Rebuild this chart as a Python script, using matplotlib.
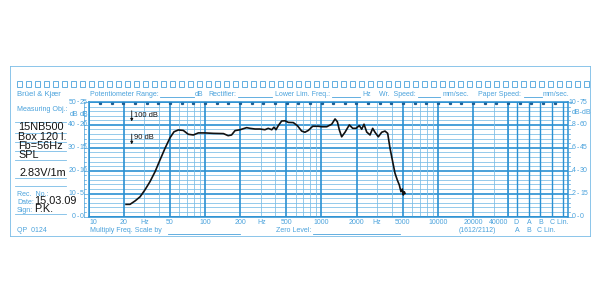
import numpy as np
import matplotlib.pyplot as plt
from matplotlib.patches import Rectangle
from matplotlib.lines import Line2D

BLUE = "#2a90d2"
LBLUE = "#78bce6"
TXT = "#4aa2dc"
INK = "#111111"

# measured response, 15NB500 in 120 l box (SPL, dB)
freq = [21.0, 22.7, 25.1, 27.7, 30.5, 33.7, 37.3, 41.1, 45.4, 50.1, 54.2, 59.0,
        65.1, 71.9, 79.4, 87.6, 100, 118, 144, 158, 169, 181, 200, 228, 243, 269,
        297, 327, 349, 374, 391, 407, 426, 455, 486, 519, 573, 620, 676, 721,
        771, 840, 939, 1009, 1109, 1224, 1307, 1368, 1423, 1490, 1592, 1733,
        1853, 1978, 2111, 2213, 2317, 2443, 2608, 2750, 2877, 3074, 3288, 3508,
        3700, 3873, 4084, 4274, 4475, 4653, 4812, 4939, 5036, 5137, 5208]
spl = [65.3, 65.3, 66.8, 68.6, 71.6, 75.2, 79.6, 84.7, 89.8, 94.4, 97.0, 97.8,
       97.6, 95.9, 95.6, 96.5, 96.5, 96.3, 96.2, 95.3, 95.6, 97.5, 97.9, 98.8, 98.5, 98.2,
       98.2, 97.9, 98.5, 97.9, 99.0, 97.9, 99.7, 101.7, 101.8, 101.1, 101.0, 99.7, 97.3, 96.8,
       97.6, 99.4, 99.4, 99.2, 99.2, 100.3, 102.6, 101.4, 97.8, 94.8, 96.8, 100.0,
       98.5, 98.5, 99.7, 98.1, 100.3, 96.9, 95.6, 98.5, 96.8, 94.8, 96.8, 97.3,
       96.3, 89.8, 83.9, 78.9, 75.9, 73.8, 70.8, 72.0, 69.4, 70.8, 70.1]

freq_labels = ["10", "20", "50", "100", "200", "500", "1000", "2000", "5000",
               "10000", "20000", "40000"]
left_outer = ["0", "10", "20", "30", "40", "50"]
left_inner = ["0", "5", "10", "15", "20", "25"]
right_inner = ["0", "2", "4", "6", "8", "10"]
right_outer = ["0", "15", "30", "45", "60", "75"]
notes = ["15NB500", "Box 120 l.", "Fb=56Hz", "SPL"]

W, H = 600, 300
X0, X1, Y0, Y1 = 88.5, 568, 216.5, 102
DEC = 116.5


def px(x, y):
    return x / W, 1 - y / H


def ftext(x, y, s, size=5.0, color=TXT, ha="left", **kw):
    fig.text(*px(x, y), s, fontsize=size, color=color, ha=ha, va="center",
             family="Liberation Sans", **kw)


def fline(x0, y0, x1, y1, color=TXT, lw=0.6):
    fig.add_artist(Line2D([x0 / W, x1 / W], [1 - y0 / H, 1 - y1 / H],
                          color=color, lw=lw, transform=fig.transFigure))


fig = plt.figure(figsize=(6, 3), dpi=100)
fig.patch.set_facecolor("white")

ax = fig.add_axes([X0 / W, 1 - Y0 / H, (X1 - X0) / W, (Y0 - Y1) / H])
ax.set_xscale("log")
ax.set_xlim(10, 10 ** (1 + (X1 - X0) / DEC))
ax.set_ylim(60, 110)
ax.set_xticks([])
ax.set_yticks([])
ax.minorticks_off()
for s in ax.spines.values():
    s.set_color(BLUE)
    s.set_linewidth(1.1)

# horizontal grid
for v in range(60, 111, 2):
    major = (v - 60) % 10 == 0
    ax.axhline(v, color=BLUE if major else LBLUE, lw=1.2 if major else 0.55, zorder=1)

# vertical grid
for dec in [10, 100, 1000, 10000]:
    for m in range(1, 10):
        f = m * dec
        if f > 40000:
            break
        major = m in (1, 2, 5)
        ax.axvline(f, color=BLUE if major else LBLUE, lw=1.2 if major else 0.55, zorder=1)
ax.axvline(40000, color=BLUE, lw=1.2, zorder=1)
extra = {"D": 516.7, "A": 529, "B": 540, "C": 551.7, "Lin.": 563}
for k, x in extra.items():
    ax.axvline(10 ** (1 + (x - X0) / DEC), color=BLUE, lw=1.0, zorder=1)

# top time marks
for e in np.arange(1.1, 5.1, 0.1):
    ax.plot(10 ** e, 109.4, marker="s", ms=1.3, color="#1d5f94", zorder=2, clip_on=False)

# response curve
ax.plot(freq, spl, color=INK, lw=1.2, zorder=5)

# level reference marks
ax.annotate("", xy=(23.5, 100.3), xytext=(23.5, 107.4),
            arrowprops=dict(arrowstyle="-|>", color=INK, lw=0.6, mutation_scale=4))
ax.annotate("", xy=(23.5, 90.3), xytext=(23.5, 97.2),
            arrowprops=dict(arrowstyle="-|>", color=INK, lw=0.6, mutation_scale=4))
ax.text(24.5, 104.3, "100 dB", fontsize=5.4, color=INK, va="center", family="Liberation Sans")
ax.text(24.5, 94.3, "90 dB", fontsize=5.4, color=INK, va="center", family="Liberation Sans")

# paper border and perforation
fline(10, 66, 590, 66, LBLUE, 0.6)
fline(10, 66, 10, 236, LBLUE, 0.6)
fline(10, 236, 590, 236, LBLUE, 0.6)
fline(590, 66, 590, 236, LBLUE, 0.6)
for i in range(64):
    x = 17 + i * 9.0
    fig.add_artist(Rectangle(((x) / W, 1 - 86.5 / H), 5 / W, 5 / H, fill=False,
                             edgecolor=TXT, lw=0.6, transform=fig.transFigure))

# header
ftext(17, 94.5, "Brüel & Kjær", size=5.6)
ftext(90, 94.5, "Potentiometer Range:")
fline(160, 97, 194, 97)
ftext(195, 94.5, "dB")
ftext(208, 94.5, "Rectifier:")
fline(238, 97, 272, 97)
ftext(275, 94.5, "Lower Lim. Freq.:")
fline(332, 97, 360, 97)
ftext(362, 94.5, "Hz")
ftext(379, 94.5, "Wr.  Speed:")
fline(418, 97, 440, 97)
ftext(443, 94.5, "mm/sec.")
ftext(478, 94.5, "Paper Speed:")
fline(524, 97, 542, 97)
ftext(543, 94.5, "mm/sec.")
ftext(17, 109.5, "Measuring Obj.:", size=5.1)

# left scale
for i in range(6):
    y = Y0 - i * (Y0 - Y1) / 5
    ftext(76, y, left_outer[i], ha="right")
    ftext(76.5, y, "-", ha="left")
    ftext(79.5, y, left_inner[i], ha="left")
ftext(70, 114, "dB", ha="left")
ftext(80, 114, "dB", ha="left")
for k in range(26):
    y = Y0 - k * (Y0 - Y1) / 25
    fline(84, y, 86 if k % 5 else 88.5, y, TXT, 0.5)
fline(84, Y1, 84, Y0, TXT, 0.5)

# right scale
for i in range(6):
    y = Y0 - i * (Y0 - Y1) / 5
    ftext(576, y, right_inner[i], ha="right")
    ftext(576.5, y, "-", ha="left")
    ftext(580, y, right_outer[i], ha="left")
ftext(572, 113, "dB-dB", ha="left")
for k in range(26):
    y = Y0 - k * (Y0 - Y1) / 25
    fline(568, y, 570 if k % 5 else 572, y, TXT, 0.5)

# bottom frequency labels
label_x = {"10": 93, "40000": 499}
for s in freq_labels:
    x = label_x.get(s, X0 + (np.log10(float(s)) - 1) * DEC)
    ftext(x, 222.5, s, ha="center")
for x in [145, 262, 377]:
    ftext(x, 222.5, "Hz", ha="center")
ftext(516, 222.5, "D", ha="center")
ftext(529, 222.5, "A", ha="center")
ftext(541, 222.5, "B", ha="center")
ftext(550, 222.5, "C Lin.", ha="left")
ftext(17, 231, "QP  0124")
ftext(90, 231, "Multiply Freq. Scale by")
fline(168, 233.5, 240, 233.5)
ftext(276, 231, "Zero Level:")
fline(313, 233.5, 400, 233.5)
ftext(459, 231, "(1612/2112)")
ftext(517, 231, "A", ha="center")
ftext(529, 231, "B", ha="center")
ftext(537, 231, "C Lin.", ha="left")

# handwritten notes
for i, s in enumerate(notes):
    ftext(18, 127.5 + i * 9.3, s, size=7.8, color=INK)
ftext(20, 173, "2.83V/1m", size=7.8, color=INK)
for y in [122, 133, 142, 151, 160, 178, 186, 214]:
    fline(15, y, 66, y, LBLUE, 0.6)
ftext(17, 194, "Rec.  No.:")
ftext(17, 202.5, "Date:")
ftext(17, 211, "Sign:")
ftext(34, 201, "15.03.09", size=7.8, color=INK)
ftext(34, 209.5, "P.K.", size=7.8, color=INK)

fig.savefig("out.png", dpi=100, facecolor="white")
